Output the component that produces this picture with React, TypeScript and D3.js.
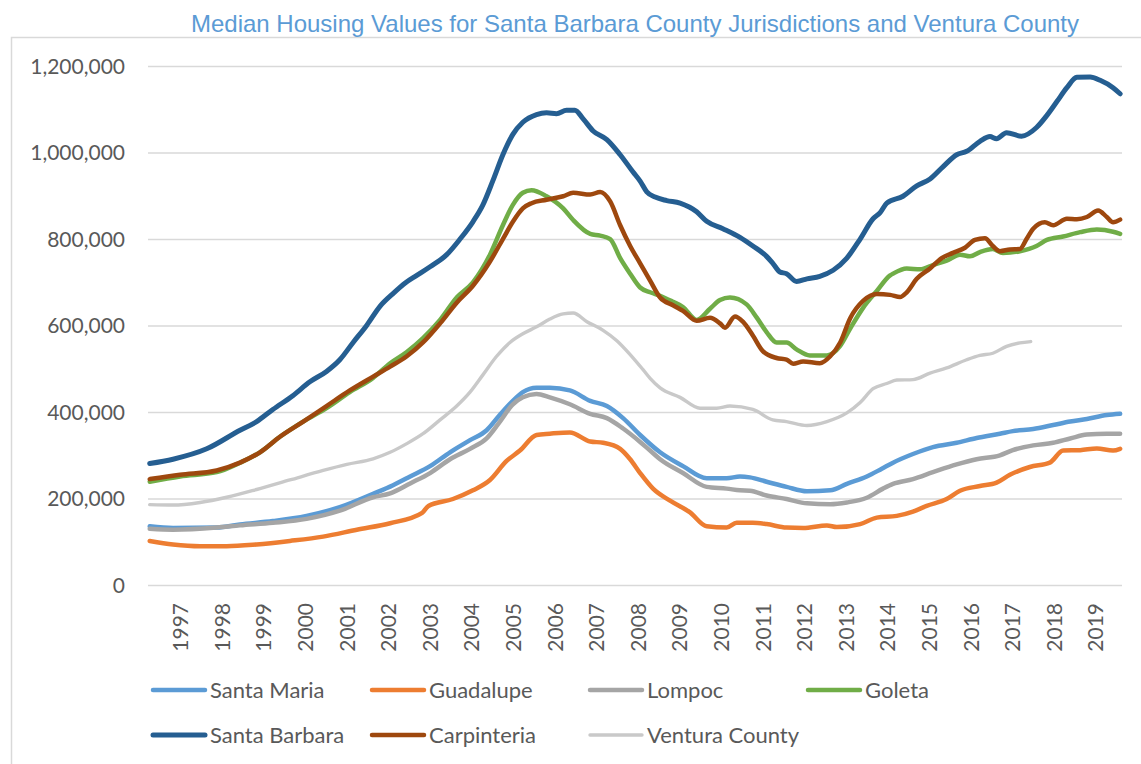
import React from "react";
import * as d3 from "d3";

type Pt = [number, number];

const years = d3.range(1997, 2020);
const yTicks = [0, 200000, 400000, 600000, 800000, 1000000, 1200000];

const santaMaria: Pt[] = [
  [1996.25,137000],[1996.81,133000],[1997.86,134000],[1998.42,141000],[1999.21,149000],[2000.02,161000],
  [2000.82,181000],[2001.62,212000],[2002.10,232000],[2002.51,252000],[2002.99,276000],[2003.47,308000],
  [2003.95,336000],[2004.35,359000],[2004.67,395000],[2004.98,427000],[2005.22,447000],[2005.55,457000],
  [2005.87,457000],[2006.35,451000],[2006.84,427000],[2007.24,415000],[2007.63,387000],[2008.04,348000],
  [2008.52,308000],[2009.07,276000],[2009.64,248000],[2010.12,248000],[2010.44,252000],[2010.68,250000],
  [2011.08,240000],[2011.56,228000],[2012.05,218000],[2012.61,220000],[2013.01,235000],[2013.49,252000],
  [2013.85,270000],[2014.12,284000],[2014.60,304000],[2015.08,320000],[2015.65,330000],[2016.13,341000],
  [2016.69,351000],[2017.00,357000],[2017.49,362000],[2017.97,371000],[2018.38,379000],[2018.78,385000],
  [2019.26,394000],[2019.58,397000]
];

const guadalupe: Pt[] = [
  [1996.25,103000],[1996.81,95000],[1997.46,91000],[1998.10,91000],[1998.82,95000],[1999.62,103000],
  [2000.42,113000],[2001.23,129000],[2002.03,144000],[2002.80,168000],[2002.95,184000],[2003.54,200000],
  [2004.02,220000],[2004.43,244000],[2004.83,288000],[2005.15,312000],[2005.55,348000],[2005.87,351000],
  [2006.35,354000],[2006.84,333000],[2007.15,330000],[2007.56,316000],[2007.80,292000],[2008.04,260000],
  [2008.35,224000],[2008.76,196000],[2009.24,169000],[2009.64,137000],[2010.12,134000],[2010.36,145000],
  [2010.75,145000],[2011.08,142000],[2011.56,134000],[2011.96,133000],[2012.53,139000],[2012.77,135000],
  [2013.33,142000],[2013.73,157000],[2014.21,161000],[2014.60,171000],[2014.93,184000],[2015.41,200000],
  [2015.73,219000],[2016.21,230000],[2016.61,238000],[2016.93,256000],[2017.41,274000],[2017.89,284000],
  [2018.21,312000],[2018.62,313000],[2019.02,317000],[2019.41,312000],[2019.58,316000]
];

const lompoc: Pt[] = [
  [1996.25,131000],[1996.81,129000],[1997.86,134000],[1998.42,139000],[1999.21,145000],[2000.02,154000],
  [2000.82,173000],[2001.62,204000],[2002.03,213000],[2002.51,236000],[2002.99,260000],[2003.47,292000],
  [2003.95,316000],[2004.35,340000],[2004.67,379000],[2004.98,419000],[2005.22,435000],[2005.55,443000],
  [2005.87,435000],[2006.35,419000],[2006.84,397000],[2007.24,387000],[2007.63,363000],[2008.04,332000],
  [2008.28,312000],[2008.52,292000],[2009.07,260000],[2009.64,228000],[2010.12,224000],[2010.44,220000],
  [2010.68,219000],[2011.08,208000],[2011.56,200000],[2012.05,190000],[2012.61,188000],[2013.01,192000],
  [2013.49,203000],[2013.88,224000],[2014.12,235000],[2014.60,246000],[2015.08,262000],[2015.65,280000],
  [2016.13,292000],[2016.69,301000],[2017.00,313000],[2017.49,324000],[2017.97,330000],[2018.38,340000],
  [2018.78,349000],[2019.26,351000],[2019.58,351000]
];

const goleta: Pt[] = [
  [1996.25,240000],[1996.98,252000],[1997.86,262000],[1998.42,284000],[1998.90,308000],[1999.38,344000],
  [1999.94,379000],[2000.50,410000],[2001.06,447000],[2001.62,480000],[2002.03,514000],[2002.43,540000],
  [2002.82,572000],[2003.23,614000],[2003.63,666000],[2004.02,701000],[2004.43,765000],[2004.74,833000],
  [2004.98,880000],[2005.22,908000],[2005.43,914000],[2005.79,900000],[2006.19,872000],[2006.43,845000],
  [2006.84,813000],[2007.08,809000],[2007.32,801000],[2007.56,757000],[2007.80,721000],[2008.04,689000],
  [2008.28,678000],[2008.52,670000],[2008.83,656000],[2009.07,644000],[2009.40,614000],[2009.72,640000],
  [2009.96,660000],[2010.20,666000],[2010.60,650000],[2010.84,620000],[2011.08,586000],[2011.32,562000],
  [2011.56,562000],[2011.80,546000],[2012.12,532000],[2012.53,532000],[2012.85,554000],[2013.09,594000],
  [2013.40,642000],[2013.73,681000],[2014.05,717000],[2014.12,721000],[2014.45,733000],[2014.77,731000],
  [2015.08,741000],[2015.41,751000],[2015.73,765000],[2015.97,761000],[2016.21,771000],[2016.52,778000],
  [2016.76,769000],[2017.17,773000],[2017.57,785000],[2017.82,799000],[2018.21,807000],[2018.62,817000],
  [2019.02,823000],[2019.41,818000],[2019.58,813000]
];

const santaBarbara: Pt[] = [
  [1996.25,282000],[1996.81,292000],[1997.62,316000],[1998.42,359000],[1998.82,379000],[1999.21,407000],
  [1999.69,439000],[2000.10,471000],[2000.50,495000],[2000.82,522000],[2001.14,562000],[2001.47,602000],
  [2001.79,646000],[2002.10,675000],[2002.40,700000],[2002.67,717000],[2002.99,737000],[2003.39,765000],
  [2003.71,801000],[2004.02,841000],[2004.26,880000],[2004.50,936000],[2004.74,996000],[2004.98,1043000],
  [2005.22,1071000],[2005.55,1089000],[2005.79,1093000],[2006.03,1091000],[2006.27,1099000],[2006.47,1099000],
  [2006.67,1079000],[2006.91,1051000],[2007.24,1031000],[2007.56,996000],[2007.87,956000],[2008.04,935000],
  [2008.20,910000],[2008.40,898000],[2008.68,890000],[2009.00,884000],[2009.40,864000],[2009.64,842000],
  [2010.03,825000],[2010.44,805000],[2010.75,785000],[2011.08,761000],[2011.23,745000],[2011.40,725000],
  [2011.56,721000],[2011.80,703000],[2012.05,709000],[2012.36,715000],[2012.68,729000],[2013.01,757000],
  [2013.33,801000],[2013.64,848000],[2013.81,862000],[2013.97,884000],[2014.36,900000],[2014.69,924000],
  [2015.01,940000],[2015.32,968000],[2015.65,996000],[2015.89,1004000],[2016.21,1027000],[2016.45,1038000],
  [2016.61,1033000],[2016.85,1047000],[2017.21,1039000],[2017.57,1059000],[2017.82,1087000],[2018.06,1119000],
  [2018.30,1151000],[2018.54,1175000],[2018.86,1176000],[2019.10,1168000],[2019.41,1151000],[2019.58,1137000]
];

const carpinteria: Pt[] = [
  [1996.25,246000],[1996.98,256000],[1997.86,266000],[1998.42,284000],[1998.90,308000],[1999.38,344000],
  [1999.94,379000],[2000.50,415000],[2001.06,451000],[2001.62,483000],[2002.03,506000],[2002.43,530000],
  [2002.82,562000],[2003.23,606000],[2003.63,654000],[2004.02,693000],[2004.43,749000],[2004.74,801000],
  [2004.98,841000],[2005.22,872000],[2005.43,884000],[2005.79,892000],[2006.19,900000],[2006.43,908000],
  [2006.84,904000],[2007.08,910000],[2007.32,888000],[2007.56,833000],[2007.80,785000],[2008.04,745000],
  [2008.28,705000],[2008.52,666000],[2008.83,648000],[2009.07,635000],[2009.40,612000],[2009.72,619000],
  [2009.96,606000],[2010.08,596000],[2010.32,622000],[2010.51,610000],[2010.75,578000],[2010.99,542000],
  [2011.32,526000],[2011.56,522000],[2011.72,513000],[2011.96,518000],[2012.36,514000],[2012.61,530000],
  [2012.85,562000],[2013.09,618000],[2013.40,658000],[2013.73,674000],[2014.05,672000],[2014.29,667000],
  [2014.45,678000],[2014.69,709000],[2015.01,733000],[2015.29,757000],[2015.56,769000],[2015.85,781000],
  [2016.09,799000],[2016.33,803000],[2016.52,785000],[2016.69,773000],[2016.93,777000],[2017.17,778000],
  [2017.33,801000],[2017.49,825000],[2017.77,840000],[2017.97,833000],[2018.30,848000],[2018.54,847000],
  [2018.78,852000],[2019.05,867000],[2019.26,852000],[2019.41,840000],[2019.58,846000]
];

const venturaCounty: Pt[] = [
  [1996.25,187000],[1996.81,186000],[1997.46,192000],[1998.10,204000],[1998.82,222000],[1999.62,244000],
  [2000.42,266000],[2000.99,280000],[2001.62,293000],[2002.03,308000],[2002.43,328000],[2002.82,351000],
  [2003.23,383000],[2003.63,415000],[2003.95,447000],[2004.26,487000],[2004.59,530000],[2004.91,562000],
  [2005.22,582000],[2005.55,598000],[2005.87,616000],[2006.19,628000],[2006.43,630000],[2006.76,610000],
  [2007.15,590000],[2007.48,566000],[2007.80,534000],[2008.11,499000],[2008.28,479000],[2008.52,457000],
  [2009.00,435000],[2009.48,410000],[2009.88,410000],[2010.20,415000],[2010.75,407000],[2011.23,383000],
  [2011.56,379000],[2012.05,370000],[2012.53,379000],[2013.01,399000],[2013.33,423000],[2013.64,455000],
  [2013.97,467000],[2014.21,475000],[2014.60,476000],[2015.01,491000],[2015.41,503000],[2015.89,522000],
  [2016.21,532000],[2016.52,537000],[2016.85,553000],[2017.17,561000],[2017.43,564000]
];

const seriesNames = ["Santa Maria", "Guadalupe", "Lompoc", "Goleta", "Santa Barbara", "Carpinteria", "Ventura County"];
const seriesData = [santaMaria, guadalupe, lompoc, goleta, santaBarbara, carpinteria, venturaCounty];
const seriesColors = ["#5B9BD5", "#ED7D31", "#A5A5A5", "#70AD47", "#255E91", "#9E480E", "#C9C9C9"];
const seriesWidths = [4.5, 4.5, 4.5, 4.5, 5, 4.5, 3.4];

const W = 1141, H = 764;
const x = d3.scaleLinear().domain([1996.25 - 1 / 24, 1996.25 - 1 / 24 + 281 / 12]).range([148, 1122]);
const y = d3.scaleLinear().domain([0, 1200000]).range([585.5, 66.5]);
const fmt = d3.format(",");
const AX = "#595959";
const FONT = "Lato, 'Open Sans', sans-serif";

export default function App() {
  const line = d3.line<Pt>().x(d => x(d[0])).y(d => y(d[1])).curve(d3.curveMonotoneX);
  const legendCols = [151, 370, 588, 806];
  const legendRows = [690, 735];
  return (
    <svg width={W} height={H} style={{ position: "absolute", left: 0, top: 0, background: "#fff" }}>
      <rect x={11.5} y={37.5} width={1300} height={900} fill="#fff" stroke="#D9D9D9" strokeWidth={1.5} />
      <text x={635} y={32} textAnchor="middle" fill="#5B9BD5" fontFamily="'Liberation Sans', Arial, sans-serif" fontSize={24}>
        Median Housing Values for Santa Barbara County Jurisdictions and Ventura County
      </text>
      {yTicks.map(t => (
        <g key={t}>
          <line x1={148} x2={1122} y1={y(t)} y2={y(t)} stroke="#D9D9D9" strokeWidth={1.5} />
          <text x={125} y={y(t)} dy="0.35em" textAnchor="end" fill={AX} fontFamily={FONT} fontSize={21}>{fmt(t)}</text>
        </g>
      ))}
      {years.map(yr => (
        <text key={yr} transform={`translate(${x(yr)},603) rotate(-90)`} textAnchor="end" dy="0.35em"
          fill={AX} fontFamily={FONT} fontSize={21}>{yr}</text>
      ))}
      {seriesData.map((d, i) => (
        <path key={seriesNames[i]} d={line(d) || ""} fill="none" stroke={seriesColors[i]}
          strokeWidth={seriesWidths[i]} strokeLinejoin="round" strokeLinecap="round" />
      ))}
      {seriesNames.map((n, i) => {
        const cx = legendCols[i % 4];
        const cy = legendRows[Math.floor(i / 4)];
        return (
          <g key={n}>
            <line x1={cx + 2} x2={cx + 54} y1={cy} y2={cy} stroke={seriesColors[i]} strokeWidth={seriesWidths[i]} strokeLinecap="round" />
            <text x={cx + 59} y={cy} dy="0.35em" fill={AX} fontFamily={FONT} fontSize={22}>{n}</text>
          </g>
        );
      })}
    </svg>
  );
}
